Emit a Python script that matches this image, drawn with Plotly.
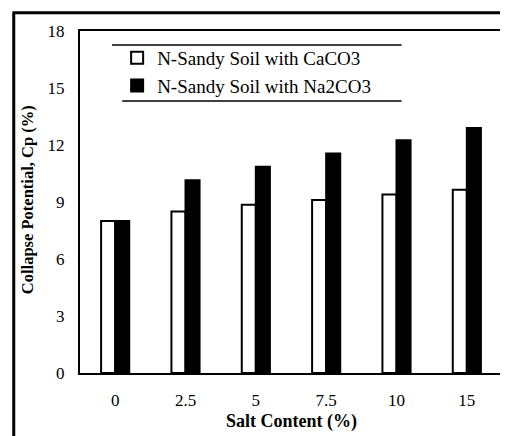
import plotly.graph_objects as go

categories = ["0", "2.5", "5", "7.5", "10", "15"]
caco3 = [8.0, 8.5, 8.85, 9.1, 9.4, 9.65]
na2co3 = [8.0, 10.15, 10.85, 11.55, 12.25, 12.9]
y_ticks = [0, 3, 6, 9, 12, 15, 18]

font_family = "Times New Roman, Liberation Serif, serif"

fig = go.Figure()
fig.add_trace(go.Bar(
    x=categories, y=caco3, name="N-Sandy Soil with CaCO3",
    marker=dict(color="white", line=dict(color="black", width=2)),
))
fig.add_trace(go.Bar(
    x=categories, y=na2co3, name="N-Sandy Soil with Na2CO3",
    marker=dict(color="black", line=dict(color="black", width=2)),
))

fig.update_layout(
    width=500, height=428,
    margin=dict(l=72, r=6, t=23, b=63, autoexpand=False),
    paper_bgcolor="white", plot_bgcolor="white",
    barmode="group", bargap=0.6, bargroupgap=0,
    font=dict(family=font_family, size=17, color="black"),
    showlegend=True,
    legend=dict(
        x=0.088, y=0.977, xanchor="left", yanchor="top",
        bgcolor="rgba(0,0,0,0)", borderwidth=0,
        font=dict(family=font_family, size=19, color="black"),
        itemwidth=30, tracegroupgap=0,
    ),
    xaxis=dict(
        showline=True, linecolor="black", linewidth=2, mirror=True,
        ticks="", tickfont=dict(family=font_family, size=17),
        ticklabelstandoff=11,
    ),
    yaxis=dict(
        range=[0, 18], tickvals=y_ticks,
        showline=True, linecolor="black", linewidth=2, mirror=True,
        showgrid=False, zeroline=False,
        ticks="", tickfont=dict(family=font_family, size=17), ticklabelstandoff=10,
    ),
    annotations=[
        dict(text="<b>Collapse Potential, Cp (%)</b>", textangle=-90,
             xref="paper", yref="paper", x=-0.150, y=0.506,
             showarrow=False, font=dict(family=font_family, size=16.5)),
        dict(text="<b>Salt Content (%)</b>",
             xref="paper", yref="paper", x=0.502, y=-0.1404,
             xanchor="center", yanchor="middle",
             showarrow=False, font=dict(family=font_family, size=18)),
    ],
    shapes=[
        dict(type="line", xref="paper", yref="paper", x0=0.076, x1=0.762,
             y0=0.959, y1=0.959, line=dict(color="black", width=1.5)),
        dict(type="line", xref="paper", yref="paper", x0=0.1, x1=0.762,
             y0=0.795, y1=0.795, line=dict(color="black", width=1.5)),
        dict(type="line", xref="paper", yref="paper", x0=-0.16, x1=1.02,
             y0=1.053, y1=1.053, line=dict(color="black", width=3)),
        dict(type="line", xref="paper", yref="paper", x0=-0.157, x1=-0.157,
             y0=1.053, y1=-0.2, line=dict(color="black", width=3)),
    ],
)

fig.write_html("out.html")
